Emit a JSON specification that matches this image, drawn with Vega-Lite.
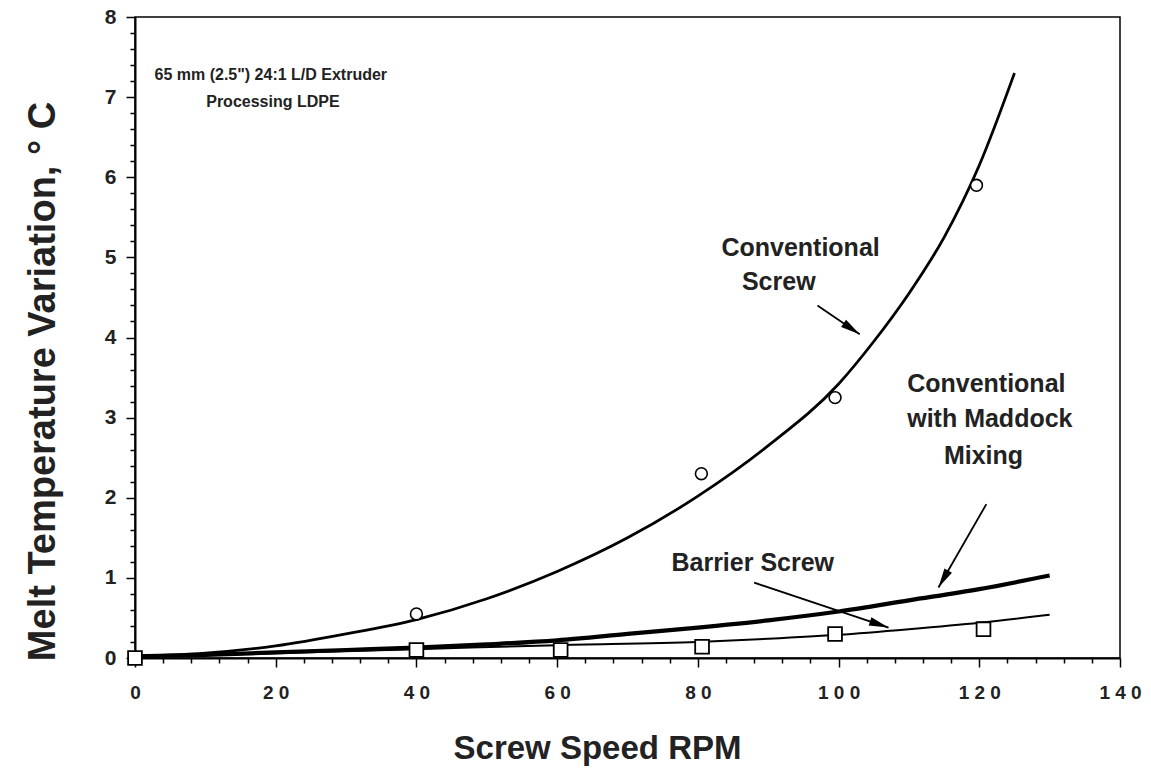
{
  "$schema": "https://vega.github.io/schema/vega-lite/v6.json",
  "autosize": "none",
  "width": 985,
  "height": 641,
  "padding": {"left": 135, "top": 17, "right": 31, "bottom": 112},
  "background": "white",
  "config": {
    "view": {"stroke": "black", "strokeWidth": 1.5},
    "font": "Liberation Sans"
  },
  "resolve": {"axis": {"x": "independent", "y": "independent"}},
  "datasets": {
    "curves": [
      {"rpm": 0, "temp": 0.02, "series": "Conventional Screw"},
      {"rpm": 10, "temp": 0.06, "series": "Conventional Screw"},
      {"rpm": 20, "temp": 0.15, "series": "Conventional Screw"},
      {"rpm": 30, "temp": 0.3, "series": "Conventional Screw"},
      {"rpm": 40, "temp": 0.48, "series": "Conventional Screw"},
      {"rpm": 50, "temp": 0.74, "series": "Conventional Screw"},
      {"rpm": 60, "temp": 1.08, "series": "Conventional Screw"},
      {"rpm": 70, "temp": 1.5, "series": "Conventional Screw"},
      {"rpm": 80, "temp": 2.02, "series": "Conventional Screw"},
      {"rpm": 90, "temp": 2.65, "series": "Conventional Screw"},
      {"rpm": 100, "temp": 3.42, "series": "Conventional Screw"},
      {"rpm": 105, "temp": 3.95, "series": "Conventional Screw"},
      {"rpm": 110, "temp": 4.55, "series": "Conventional Screw"},
      {"rpm": 115, "temp": 5.25, "series": "Conventional Screw"},
      {"rpm": 120, "temp": 6.15, "series": "Conventional Screw"},
      {"rpm": 125, "temp": 7.3, "series": "Conventional Screw"},
      {"rpm": 0, "temp": 0.02, "series": "Maddock"},
      {"rpm": 10, "temp": 0.04, "series": "Maddock"},
      {"rpm": 20, "temp": 0.07, "series": "Maddock"},
      {"rpm": 30, "temp": 0.1, "series": "Maddock"},
      {"rpm": 40, "temp": 0.13, "series": "Maddock"},
      {"rpm": 50, "temp": 0.17, "series": "Maddock"},
      {"rpm": 60, "temp": 0.22, "series": "Maddock"},
      {"rpm": 70, "temp": 0.3, "series": "Maddock"},
      {"rpm": 80, "temp": 0.38, "series": "Maddock"},
      {"rpm": 90, "temp": 0.47, "series": "Maddock"},
      {"rpm": 100, "temp": 0.58, "series": "Maddock"},
      {"rpm": 110, "temp": 0.72, "series": "Maddock"},
      {"rpm": 120, "temp": 0.86, "series": "Maddock"},
      {"rpm": 130, "temp": 1.03, "series": "Maddock"},
      {"rpm": 0, "temp": 0.02, "series": "Barrier"},
      {"rpm": 20, "temp": 0.06, "series": "Barrier"},
      {"rpm": 40, "temp": 0.11, "series": "Barrier"},
      {"rpm": 60, "temp": 0.16, "series": "Barrier"},
      {"rpm": 80, "temp": 0.2, "series": "Barrier"},
      {"rpm": 90, "temp": 0.24, "series": "Barrier"},
      {"rpm": 100, "temp": 0.29, "series": "Barrier"},
      {"rpm": 110, "temp": 0.36, "series": "Barrier"},
      {"rpm": 120, "temp": 0.44, "series": "Barrier"},
      {"rpm": 130, "temp": 0.54, "series": "Barrier"}
    ],
    "points": [
      {"rpm": 40, "temp": 0.55, "series": "Conventional Screw"},
      {"rpm": 80.5, "temp": 2.3, "series": "Conventional Screw"},
      {"rpm": 99.5, "temp": 3.25, "series": "Conventional Screw"},
      {"rpm": 119.6, "temp": 5.9, "series": "Conventional Screw"},
      {"rpm": 0, "temp": 0.0, "series": "Barrier"},
      {"rpm": 40, "temp": 0.1, "series": "Barrier"},
      {"rpm": 60.5, "temp": 0.1, "series": "Barrier"},
      {"rpm": 80.6, "temp": 0.14, "series": "Barrier"},
      {"rpm": 99.5, "temp": 0.3, "series": "Barrier"},
      {"rpm": 120.6, "temp": 0.36, "series": "Barrier"}
    ],
    "arrows": [
      {"id": "conv", "x1": 97.0, "y1": 4.4, "x2": 103.0, "y2": 4.04},
      {"id": "maddock", "x1": 121.0, "y1": 1.92, "x2": 114.2, "y2": 0.88},
      {"id": "barrier", "x1": 88.0, "y1": 0.94, "x2": 107.1, "y2": 0.38}
    ],
    "labels": [
      {"x": 94.6, "y": 5.12, "text": "Conventional"},
      {"x": 91.5, "y": 4.69, "text": "Screw"},
      {"x": 121.0, "y": 3.42, "text": "Conventional"},
      {"x": 121.5, "y": 2.98, "text": "with Maddock"},
      {"x": 120.6, "y": 2.52, "text": "Mixing"},
      {"x": 87.8, "y": 1.18, "text": "Barrier Screw"}
    ],
    "note": [
      {"x": 19.3, "y": 7.28, "text": "65 mm (2.5\") 24:1 L/D Extruder"},
      {"x": 19.6, "y": 6.94, "text": "Processing LDPE"}
    ]
  },
  "layer": [
    {
      "data": {"name": "curves"},
      "mark": {"type": "point", "opacity": 0},
      "encoding": {
        "x": {
          "field": "rpm", "type": "quantitative",
          "scale": {"domain": [0, 140], "nice": false, "zero": true},
          "axis": {
            "orient": "bottom", "title": null, "labels": false, "domain": false, "grid": false,
            "values": [4,8,12,16,24,28,32,36,44,48,52,56,64,68,72,76,84,88,92,96,104,108,112,116,124,128,132,136],
            "tickColor": "black", "tickWidth": 1.5, "tickSize": 5
          }
        },
        "y": {
          "field": "temp", "type": "quantitative",
          "scale": {"domain": [0, 8], "nice": false},
          "axis": {
            "orient": "left", "title": null, "labels": false, "domain": false, "grid": false,
            "values": [0.2,0.4,0.6,0.8,1.2,1.4,1.6,1.8,2.2,2.4,2.6,2.8,3.2,3.4,3.6,3.8,4.2,4.4,4.6,4.8,5.2,5.4,5.6,5.8,6.2,6.4,6.6,6.8,7.2,7.4,7.6,7.8],
            "tickColor": "black", "tickWidth": 1.5, "tickSize": 5
          }
        }
      }
    },
    {
      "data": {"name": "curves"},
      "transform": [{"filter": "datum.series === 'Conventional Screw'"}],
      "mark": {"type": "line", "color": "black", "strokeWidth": 2.8, "interpolate": "monotone"},
      "encoding": {
        "x": {
          "field": "rpm", "type": "quantitative",
          "axis": {
            "orient": "bottom",
            "title": "Screw Speed RPM",
            "values": [0, 20, 40, 60, 80, 100, 120, 140],
            "labelExpr": "join(split(datum.label, ''), ' ')",
            "labelFont": "Liberation Sans", "labelFontWeight": "bold", "labelFontSize": 19,
            "labelColor": "#222", "labelPadding": 16, "labelFlush": false, "labelOverlap": false,
            "tickColor": "black", "tickWidth": 1.5, "tickSize": 9,
            "domainColor": "black", "domainWidth": 2,
            "grid": false,
            "titleFont": "Liberation Sans", "titleFontWeight": "bold", "titleFontSize": 33,
            "titleColor": "#222", "titleX": 462, "titleY": 74, "titleBaseline": "top", "titleAlign": "center"
          }
        },
        "y": {
          "field": "temp", "type": "quantitative",
          "axis": {
            "orient": "left",
            "title": "Melt Temperature Variation,  ° C",
            "values": [0, 1, 2, 3, 4, 5, 6, 7, 8],
            "format": "d",
            "labelFont": "Liberation Sans", "labelFontWeight": "bold", "labelFontSize": 21,
            "labelColor": "#222", "labelPadding": 10, "labelFlush": false, "labelOverlap": false,
            "tickColor": "black", "tickWidth": 1.5, "tickSize": 9,
            "domainColor": "black", "domainWidth": 2,
            "grid": false,
            "titleFont": "Liberation Sans", "titleFontWeight": "bold", "titleFontSize": 38,
            "titleColor": "#222", "titleX": -73, "titleY": 364, "titleBaseline": "bottom", "titleAlign": "center", "titleAngle": -90
          }
        }
      }
    },
    {
      "data": {"name": "curves"},
      "transform": [{"filter": "datum.series === 'Maddock'"}],
      "mark": {"type": "line", "color": "black", "strokeWidth": 4.2, "interpolate": "monotone"},
      "encoding": {"x": {"field": "rpm", "type": "quantitative", "axis": null}, "y": {"field": "temp", "type": "quantitative", "axis": null}}
    },
    {
      "data": {"name": "curves"},
      "transform": [{"filter": "datum.series === 'Barrier'"}],
      "mark": {"type": "line", "color": "black", "strokeWidth": 2, "interpolate": "monotone"},
      "encoding": {"x": {"field": "rpm", "type": "quantitative", "axis": null}, "y": {"field": "temp", "type": "quantitative", "axis": null}}
    },
    {
      "data": {"name": "points"},
      "transform": [{"filter": "datum.series === 'Conventional Screw'"}],
      "mark": {"type": "point", "shape": "circle", "size": 140, "filled": true, "fill": "white", "stroke": "black", "strokeWidth": 1.6, "opacity": 1},
      "encoding": {"x": {"field": "rpm", "type": "quantitative", "axis": null}, "y": {"field": "temp", "type": "quantitative", "axis": null}}
    },
    {
      "data": {"name": "points"},
      "transform": [{"filter": "datum.series === 'Barrier'"}],
      "mark": {"type": "point", "shape": "square", "size": 190, "filled": true, "fill": "white", "stroke": "black", "strokeWidth": 1.8, "opacity": 1},
      "encoding": {"x": {"field": "rpm", "type": "quantitative", "axis": null}, "y": {"field": "temp", "type": "quantitative", "axis": null}}
    },
    {
      "data": {"name": "arrows"},
      "mark": {"type": "rule", "color": "black", "strokeWidth": 1.8},
      "encoding": {
        "x": {"field": "x1", "type": "quantitative", "axis": null}, "y": {"field": "y1", "type": "quantitative", "axis": null},
        "x2": {"field": "x2"}, "y2": {"field": "y2"}
      }
    },
    {
      "data": {"name": "arrows"},
      "transform": [{"filter": "datum.id === 'conv'"}],
      "mark": {"type": "point", "shape": "M0,0L-0.45,2L0.45,2Z", "size": 380, "filled": true, "color": "black", "opacity": 1, "angle": 124.3},
      "encoding": {"x": {"field": "x2", "type": "quantitative", "axis": null}, "y": {"field": "y2", "type": "quantitative", "axis": null}}
    },
    {
      "data": {"name": "arrows"},
      "transform": [{"filter": "datum.id === 'maddock'"}],
      "mark": {"type": "point", "shape": "M0,0L-0.45,2L0.45,2Z", "size": 380, "filled": true, "color": "black", "opacity": 1, "angle": 209.9},
      "encoding": {"x": {"field": "x2", "type": "quantitative", "axis": null}, "y": {"field": "y2", "type": "quantitative", "axis": null}}
    },
    {
      "data": {"name": "arrows"},
      "transform": [{"filter": "datum.id === 'barrier'"}],
      "mark": {"type": "point", "shape": "M0,0L-0.45,2L0.45,2Z", "size": 380, "filled": true, "color": "black", "opacity": 1, "angle": 108.5},
      "encoding": {"x": {"field": "x2", "type": "quantitative", "axis": null}, "y": {"field": "y2", "type": "quantitative", "axis": null}}
    },
    {
      "data": {"name": "labels"},
      "mark": {"type": "text", "font": "Liberation Sans", "fontWeight": "bold", "fontSize": 25, "align": "center", "baseline": "middle", "color": "#222"},
      "encoding": {
        "x": {"field": "x", "type": "quantitative", "axis": null}, "y": {"field": "y", "type": "quantitative", "axis": null},
        "text": {"field": "text"}
      }
    },
    {
      "data": {"name": "note"},
      "mark": {"type": "text", "font": "Liberation Sans", "fontWeight": "bold", "fontSize": 16, "align": "center", "baseline": "middle", "color": "#222"},
      "encoding": {
        "x": {"field": "x", "type": "quantitative", "axis": null}, "y": {"field": "y", "type": "quantitative", "axis": null},
        "text": {"field": "text"}
      }
    }
  ]
}
